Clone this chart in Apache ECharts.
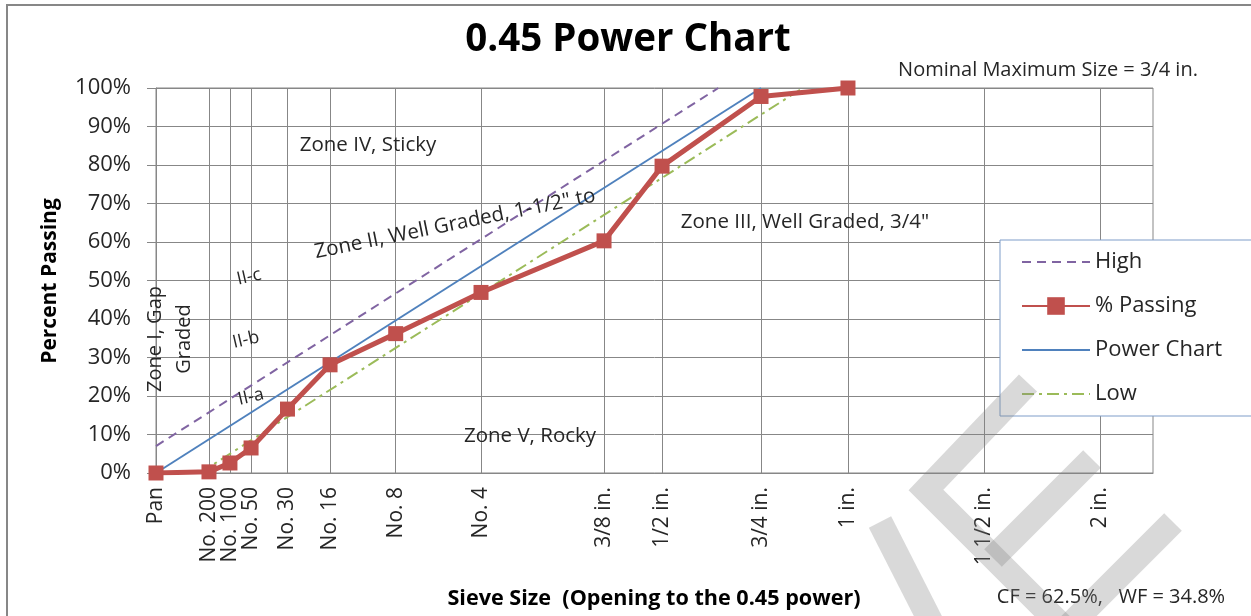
<!DOCTYPE html>
<html>
<head>
<meta charset="utf-8">
<script src="https://cdn.jsdelivr.net/npm/echarts@6/dist/echarts.min.js"></script>
<style>
html,body{margin:0;padding:0;background:#ffffff;}
#chart{width:1251px;height:616px;}
</style>
</head>
<body>
<div id="chart"></div>
<script>
// ---- Data ----
// Sieve labels and their positions on the x axis (opening in mm raised to the 0.45 power)
const sieveLabels = ["Pan", "No. 200", "No. 100", "No. 50", "No. 30", "No. 16", "No. 8", "No. 4",
                     "3/8 in.", "1/2 in.", "3/4 in.", "1 in.", "1 1/2 in.", "2 in."];
const sieveX = [0, 0.326, 0.455, 0.585, 0.809, 1.071, 1.475, 2.0, 2.757, 3.114, 3.723, 4.258, 5.095, 5.809];
// % passing for Pan .. 1 in.
const passingPct = [0, 0.3, 2.6, 6.5, 16.6, 28.1, 36.2, 46.9, 60.3, 79.7, 97.8, 100];
// straight reference lines (end points)
const powerX = [0, 3.723];
const powerY = [0, 100];
const highX = [0, 3.46];
const highY = [7, 100];
const lowX = [0.27, 3.98];
const lowY = [0, 100];
const xMax = 6.135;

const FONT = "'Open Sans', 'DejaVu Sans', sans-serif";
const GRID = '#878787';
const TXT = '#262626';

const pairs = (xs, ys) => xs.map((x, i) => [x, ys[i]]);
const labelFor = (v) => {
  let best = 0, bd = Infinity;
  sieveX.forEach((x, i) => { const d = Math.abs(x - v); if (d < bd) { bd = d; best = i; } });
  return sieveLabels[best];
};

function txt(text, x, y, size, opts) {
  opts = opts || {};
  return {
    type: 'text', x: x, y: y, rotation: opts.rot || 0, silent: true, z: 50,
    style: {
      text: text, fill: opts.color || TXT,
      fontSize: size, fontFamily: FONT, fontWeight: opts.bold ? 'bold' : 'normal',
      lineHeight: opts.lh,
      align: opts.align || 'center', verticalAlign: 'middle',
      textAlign: opts.align || 'center', textVerticalAlign: 'middle'
    }
  };
}
function band(points) {
  return {
    type: 'polyline', silent: true, z: 100,
    shape: { points: points },
    style: { stroke: 'rgba(128,128,128,0.3)', lineWidth: 25, lineCap: 'butt', lineJoin: 'miter', fill: null }
  };
}
const deg = Math.PI / 180;

const chart = echarts.init(document.getElementById('chart'), null, { renderer: 'canvas' });
chart.setOption({
  animation: false,
  backgroundColor: '#ffffff',
  textStyle: { fontFamily: FONT },
  grid: {
    left: 156, right: 98, top: 88, bottom: 143,
    show: true, borderColor: GRID, borderWidth: 1,
    containLabel: false, outerBoundsMode: 'none'
  },
  xAxis: {
    type: 'value', min: 0, max: xMax,
    axisLine: { show: true, lineStyle: { color: GRID, width: 1 } },
    splitLine: { show: false },
    axisTick: { show: true, inside: true, length: 385, customValues: sieveX,
                lineStyle: { color: GRID, width: 1 } },
    axisLabel: { show: true, customValues: sieveX, rotate: 90, margin: 14,
                 hideOverlap: false, showMinLabel: true, showMaxLabel: true,
                 fontSize: 21, fontFamily: FONT, color: TXT,
                 formatter: (v) => labelFor(v) }
  },
  yAxis: {
    type: 'value', min: 0, max: 100, interval: 10,
    axisLine: { show: true, lineStyle: { color: GRID, width: 1 } },
    axisTick: { show: true, inside: false, length: 9, lineStyle: { color: GRID } },
    splitLine: { show: true, lineStyle: { color: GRID, width: 1 } },
    axisLabel: { formatter: '{value}%', fontSize: 22, fontFamily: FONT, color: TXT, margin: 25 }
  },
  legend: {
    orient: 'vertical', left: 1000, top: 240,
    data: [
      { name: 'High', itemStyle: { opacity: 0 } },
      { name: '% Passing' },
      { name: 'Power Chart', itemStyle: { opacity: 0 } },
      { name: 'Low', itemStyle: { opacity: 0 } }
    ],
    itemWidth: 68, itemHeight: 22, itemGap: 22,
    padding: [11, 80, 11, 21],
    backgroundColor: '#ffffff', borderColor: '#7f9dc9', borderWidth: 1, borderRadius: 0,
    textStyle: { fontSize: 22, fontFamily: FONT, color: TXT },
    z: 20
  },
  series: [
    { name: 'High', type: 'line', data: pairs(highX, highY), symbol: 'none', z: 3,
      lineStyle: { color: '#8064a2', width: 2, type: [9, 6] }, itemStyle: { color: '#8064a2' } },
    { name: 'Power Chart', type: 'line', data: pairs(powerX, powerY), symbol: 'none', z: 3,
      lineStyle: { color: '#4f81bd', width: 2 }, itemStyle: { color: '#4f81bd' } },
    { name: 'Low', type: 'line', data: pairs(lowX, lowY), symbol: 'none', z: 3,
      lineStyle: { color: '#9bbb59', width: 2, type: [12, 5, 3, 5] }, itemStyle: { color: '#9bbb59' } },
    { name: '% Passing', type: 'line', data: passingPct.map((v, i) => [sieveX[i], v]),
      symbol: 'rect', symbolSize: 15, z: 5,
      lineStyle: { color: '#c0504d', width: 5 }, itemStyle: { color: '#c0504d' } }
  ],
  graphic: [
    { type: 'rect', silent: true, z: 0, shape: { x: 7, y: 5, width: 1400, height: 800 },
      style: { stroke: '#878787', lineWidth: 2, fill: null } },
    txt('0.45 Power Chart', 628, 40, 38.5, { bold: true, color: '#000' }),
    txt('Nominal Maximum Size = 3/4 in.', 1048, 70, 20),
    txt('Percent Passing', 50, 281, 21, { bold: true, rot: 90 * deg, color: '#000' }),
    txt('Sieve Size  (Opening to the 0.45 power)', 654, 599, 21.6, { bold: true, color: '#000' }),
    txt('CF = 62.5%,   WF = 34.8%', 1111, 597, 20),
    txt('Zone IV, Sticky', 368, 145, 20.5),
    txt('Zone III, Well Graded, 3/4"', 805, 222, 20.5),
    txt('Zone V, Rocky', 530, 436, 20.5),
    txt('Zone II, Well Graded, 1-1/2" to', 455, 224, 20.5, { rot: 11.5 * deg }),
    txt('II-c', 249, 277, 18, { rot: 13 * deg }),
    txt('II-b', 246, 340, 18, { rot: 13 * deg }),
    txt('II-a', 251, 397, 18, { rot: 13 * deg }),
    txt('Zone I, Gap\nGraded', 170, 339, 20, { rot: 90 * deg, lh: 29 }),
    band([[880, 522], [936, 632]]),
    band([[1028, 383], [926, 490], [1066, 630]]),
    band([[1092, 459], [993, 558]]),
    band([[1173, 522], [1070, 625]])
  ]
});
</script>
</body>
</html>
